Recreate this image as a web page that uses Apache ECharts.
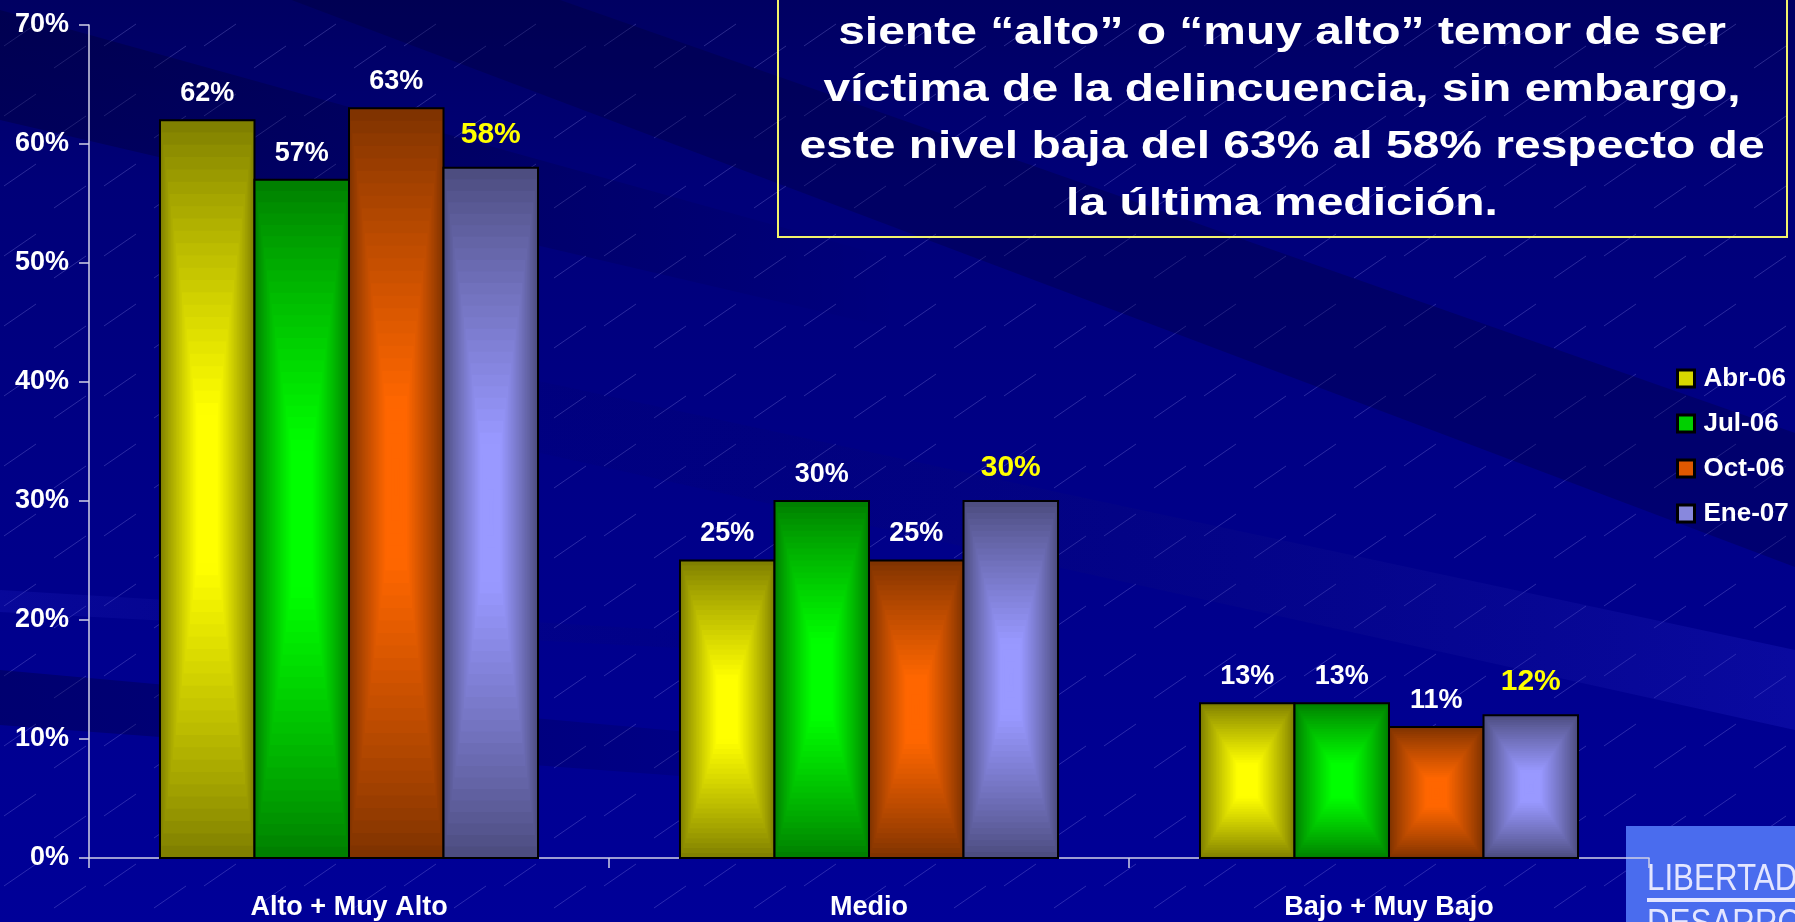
<!DOCTYPE html>
<html>
<head>
<meta charset="utf-8">
<style>
html,body{margin:0;padding:0;background:#000080;}
#chart{width:1795px;height:922px;}
</style>
<script src="https://cdn.jsdelivr.net/npm/echarts@6/dist/echarts.min.js"></script>
</head>
<body>
<div id="chart"></div>
<script>
// ---- data ----
const categories = ['Alto + Muy Alto', 'Medio', 'Bajo + Muy Bajo'];
const seriesNames = ['Abr-06', 'Jul-06', 'Oct-06', 'Ene-07'];
const abr06 = [62, 25, 13];
const jul06 = [57, 30, 13];
const oct06 = [63, 25, 11];
const ene07 = [58, 30, 12];
const yMin = 0, yMax = 70, yStep = 10;
const titleLines = [
  'siente \u201calto\u201d o \u201cmuy alto\u201d temor de ser',
  'v\u00edctima de la delincuencia, sin embargo,',
  'este nivel baja del 63% al 58% respecto de',
  'la \u00faltima medici\u00f3n.'
];

// ---- styles ----
const seriesValues = [abr06, jul06, oct06, ene07];
const edgeColors = [[128,128,0],[0,128,0],[128,51,0],[77,77,128]];
const centerColors = [[255,255,0],[0,255,0],[255,102,0],[153,153,255]];
const legendColors = ['#d8d800', '#00d000', '#e05800', '#8888dd'];
const FONT = 'Liberation Sans, Arial, sans-serif';
const BAR_FILL = 0.727;

function mix(a, b, t) {
  return 'rgb(' + a.map((v, i) => Math.round(v + (b[i] - v) * t)).join(',') + ')';
}

function makeRender(s) {
  return function (params, api) {
    const ci = api.value(0), v = api.value(1);
    const p0 = api.coord([ci, 0]);
    const p1 = api.coord([ci, v]);
    const band = api.size([1, 0])[0];
    const bw = band * BAR_FILL / 4;
    const left = p0[0] - 2 * bw + s * bw;
    const top = p1[1];
    const h = p0[1] - p1[1];
    const children = [];
    const N = 30;
    for (let k = 0; k < N; k++) {
      const f = 1 - k / N;
      const t = Math.min(1, (k / (N - 1)) / 0.8);
      const w2 = bw * f, h2 = h * f;
      children.push({
        type: 'rect',
        shape: { x: left + (bw - w2) / 2, y: top + (h - h2) / 2, width: w2, height: h2 },
        style: { fill: mix(edgeColors[s], centerColors[s], Math.pow(t, 0.9)) }
      });
    }
    children.push({
      type: 'rect',
      shape: { x: left, y: top, width: bw, height: h },
      style: { fill: 'none', stroke: '#000', lineWidth: 2 }
    });
    const isLast = s === 3;
    children.push({
      type: 'text',
      style: {
        text: v + '%',
        x: left + bw / 2,
        y: top - (isLast ? 18 : 13),
        align: 'center',
        verticalAlign: 'bottom',
        fill: isLast ? '#ffff00' : '#ffffff',
        font: 'bold ' + (isLast ? 30 : 27) + 'px ' + FONT
      }
    });
    return { type: 'group', children: children };
  };
}

function makeTile() {
  const c = document.createElement('canvas');
  c.width = 100; c.height = 70;
  const g = c.getContext('2d');
  g.strokeStyle = 'rgba(170,170,255,0.25)';
  g.lineWidth = 1;
  g.beginPath();
  g.moveTo(4, 46); g.lineTo(36, 24);
  g.moveTo(54, 68); g.lineTo(86, 46);
  g.stroke();
  return c;
}

function fade(color, dir) {
  return {
    type: 'linear', x: 0, y: 0, x2: 1, y2: 0,
    colorStops: dir > 0
      ? [{ offset: 0, color: color }, { offset: 1, color: 'rgba(0,0,0,0)' }]
      : [{ offset: 0, color: 'rgba(0,0,0,0)' }, { offset: 1, color: color }]
  };
}

const chart = echarts.init(document.getElementById('chart'));

const option = {
  animation: false,
  backgroundColor: {
    type: 'linear', x: 0, y: 0, x2: 0, y2: 1,
    colorStops: [
      { offset: 0, color: '#000062' },
      { offset: 0.2, color: '#000078' },
      { offset: 0.55, color: '#000088' },
      { offset: 1, color: '#000098' }
    ]
  },
  grid: { left: 89, right: 146, top: 25, bottom: 64, containLabel: false },
  xAxis: {
    type: 'category',
    data: categories,
    axisLine: { lineStyle: { color: '#d0d0e6', width: 1.5 } },
    axisTick: { show: true, length: 10, lineStyle: { color: '#d0d0e6', width: 1.5 } },
    axisLabel: {
      color: '#ffffff', fontFamily: FONT, fontWeight: 'bold', fontSize: 27, margin: 36
    },
    splitLine: { show: false }
  },
  yAxis: {
    type: 'value',
    min: yMin, max: yMax, interval: yStep,
    axisLine: { show: true, lineStyle: { color: '#d0d0e6', width: 1.5 } },
    axisTick: { show: true, length: 10, lineStyle: { color: '#d0d0e6', width: 1.5 } },
    axisLabel: {
      color: '#ffffff', fontFamily: FONT, fontWeight: 'bold', fontSize: 27, margin: 20,
      formatter: '{value}%'
    },
    splitLine: { show: false }
  },
  legend: {
    orient: 'vertical',
    left: 1676, top: 365,
    padding: 0,
    itemWidth: 17, itemHeight: 17, itemGap: 18,
    icon: 'rect',
    textStyle: {
      color: '#ffffff', fontFamily: FONT, fontWeight: 'bold', fontSize: 26, lineHeight: 27,
      padding: [0, 0, 0, 4]
    },
    data: seriesNames.map((n, i) => ({
      name: n,
      itemStyle: { color: legendColors[i], borderColor: '#000000', borderWidth: 3 }
    }))
  },
  graphic: [
    { type: 'rect', z: -20, silent: true,
      shape: { x: 0, y: 0, width: 1795, height: 922 },
      style: { fill: { image: makeTile(), repeat: 'repeat' } } },
    { type: 'polygon', z: -19, silent: true,
      shape: { points: [[560, 0], [1795, 433], [1795, 567], [0, -110], [0, 0]] },
      style: { fill: 'rgba(0,0,40,0.25)' } },
    { type: 'polygon', z: -19, silent: true,
      shape: { points: [[0, 10], [0, 120], [900, 330], [900, 260]] },
      style: { fill: fade('rgba(0,0,40,0.32)', 1) } },
    { type: 'polygon', z: -19, silent: true,
      shape: { points: [[300, 330], [1795, 650], [1795, 730], [300, 400]] },
      style: { fill: fade('rgba(40,40,210,0.25)', -1) } },
    { type: 'polygon', z: -19, silent: true,
      shape: { points: [[0, 670], [1000, 760], [1000, 800], [0, 725]] },
      style: { fill: fade('rgba(0,0,40,0.3)', 1) } },
    { type: 'polygon', z: -19, silent: true,
      shape: { points: [[0, 590], [1000, 650], [1000, 665], [0, 612]] },
      style: { fill: fade('rgba(40,40,210,0.2)', 1) } },
    // logo
    { type: 'rect', z: -5, silent: true,
      shape: { x: 1626, y: 826, width: 200, height: 120 },
      style: { fill: '#4a6cee' } },
    { type: 'group', z: -4, x: 1647, y: 0, scaleX: 0.87, silent: true,
      children: [
        { type: 'text', style: { text: 'LIBERTAD', x: 0, y: 880, verticalAlign: 'middle',
          fill: '#e4e6ff', font: '36px ' + FONT } },
        { type: 'rect', shape: { x: 0, y: 898, width: 200, height: 4 }, style: { fill: '#e4e6ff' } },
        { type: 'text', style: { text: 'DESARROLLO', x: 0, y: 925, verticalAlign: 'middle',
          fill: '#e4e6ff', font: '36px ' + FONT } }
      ] },
    // title box
    { type: 'rect', z: 10, silent: true,
      shape: { x: 778, y: -50, width: 1009, height: 287 },
      style: { fill: 'none', stroke: '#f2f26a', lineWidth: 2 } },
    { type: 'group', z: 10, x: 1282, y: 0, scaleX: 1.23, silent: true,
      children: titleLines.map((t, i) => ({
        type: 'text',
        style: { text: t, x: 0, y: 33 + i * 57, align: 'center', verticalAlign: 'middle',
          fill: '#ffffff', font: 'bold 39px ' + FONT }
      })) }
  ],
  series: seriesNames.map((n, s) => ({
    name: n,
    type: 'custom',
    itemStyle: { color: legendColors[s] },
    renderItem: makeRender(s),
    encode: { x: 0, y: 1 },
    data: seriesValues[s].map((v, i) => [i, v]),
    z: 2
  }))
};

chart.setOption(option);
</script>
</body>
</html>
